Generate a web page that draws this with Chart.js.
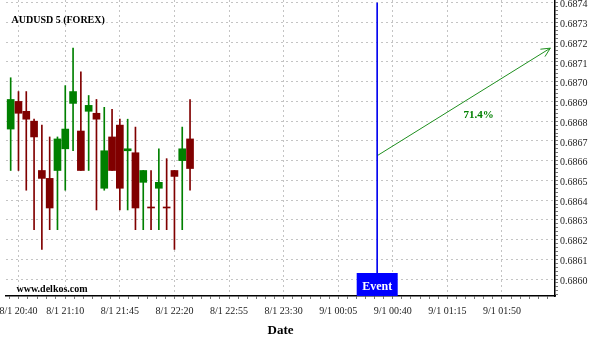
<!DOCTYPE html>
<html><head><meta charset="utf-8">
<script src="https://cdn.jsdelivr.net/npm/chart.js@4.4.0/dist/chart.umd.min.js"></script>
<style>html,body{margin:0;padding:0;background:#fff;}canvas{display:block;}</style>
</head><body>
<canvas id="c" width="600" height="340"></canvas>
<script>
// ---- data ----
const CANDLE_TIMES = ['8/1 20:35','8/1 20:40','8/1 20:45','8/1 20:50','8/1 20:55','8/1 21:00','8/1 21:05','8/1 21:10',
  '8/1 21:15','8/1 21:20','8/1 21:25','8/1 21:30','8/1 21:35','8/1 21:40','8/1 21:45','8/1 21:50',
  '8/1 21:55','8/1 22:00','8/1 22:05','8/1 22:10','8/1 22:15','8/1 22:20','8/1 22:25','8/1 22:30'];
const OPEN  = [0.68676,0.68690,0.68685,0.68680,0.68655,0.68651,0.68655,0.68666,0.68689,0.68675,0.68685,0.68684,
               0.68646,0.68672,0.68678,0.68665,0.68664,0.68649,0.68636,0.68646,0.68636,0.68655,0.68660,0.68671];
const HIGH  = [0.68702,0.68695,0.68695,0.68681,0.68678,0.68672,0.68672,0.68698,0.68717,0.68705,0.68693,0.68691,
               0.68687,0.68686,0.68681,0.68681,0.68677,0.68655,0.68655,0.68666,0.68661,0.68655,0.68677,0.68691];
const LOW   = [0.68655,0.68655,0.68645,0.68625,0.68615,0.68625,0.68625,0.68645,0.68665,0.68655,0.68655,0.68635,
               0.68645,0.68655,0.68635,0.68635,0.68625,0.68625,0.68625,0.68625,0.68625,0.68615,0.68625,0.68645];
const CLOSE = [0.68691,0.68684,0.68681,0.68672,0.68651,0.68636,0.68671,0.68676,0.68695,0.68655,0.68688,0.68681,
               0.68665,0.68655,0.68646,0.68666,0.68636,0.68655,0.68636,0.68649,0.68636,0.68652,0.68666,0.68656];
const X_TICK_LABELS = ['8/1 20:40','8/1 21:10','8/1 21:45','8/1 22:20','8/1 22:55','8/1 23:30','9/1 00:05','9/1 00:40','9/1 01:15','9/1 01:50'];
const Y_TICK_LABELS = ['0.6860','0.6861','0.6862','0.6863','0.6864','0.6865','0.6866','0.6867','0.6868','0.6869','0.6870','0.6871','0.6872','0.6873','0.6874'];
const X_RANGE = ['8/1 20:32','9/1 02:24'];
const Y_RANGE = [0.685914, 0.687414];
const EVENT_TIME = '9/1 00:30';
const EVENT_LABEL = 'Event';
const ARROW_FROM = {time: '9/1 00:30', price: 0.686625};
const ARROW_TO   = {time: '9/1 02:21', price: 0.68717};
const ARROW_TEXT = {time: '9/1 01:35', price: 0.68683, label: '71.4%'};
const TITLE = 'AUDUSD 5 (FOREX)';
const WATERMARK = 'www.delkos.com';
const X_TITLE = 'Date';

// ---- helpers ----
function toMin(s){const [d,t]=s.split(' ');const day=+d.split('/')[0];const [h,m]=t.split(':').map(Number);return (day-8)*1440+h*60+m;}
const UP='#008000', DOWN='#800000';
const SERIF="'Liberation Serif','Times New Roman',serif";
const colors = OPEN.map((o,i)=> CLOSE[i] > o ? UP : DOWN);
const xs = CANDLE_TIMES.map(toMin);
const yMajorVals = Y_TICK_LABELS.map(Number);
const xMajorVals = X_TICK_LABELS.map(toMin);
const xMin = toMin(X_RANGE[0]), xMax = toMin(X_RANGE[1]);
const evX = toMin(EVENT_TIME);

const overlay = {
  id:'overlay',
  afterDatasetsDraw(chart){
    const ctx=chart.ctx, x=chart.scales.x, y=chart.scales.y, ca=chart.chartArea;
    ctx.save();
    // arrow head
    const x1=x.getPixelForValue(toMin(ARROW_FROM.time)), y1=y.getPixelForValue(ARROW_FROM.price);
    const x2=x.getPixelForValue(toMin(ARROW_TO.time)), y2=y.getPixelForValue(ARROW_TO.price);
    const ang=Math.atan2(y2-y1,x2-x1), L=10, spread=0.45;
    ctx.strokeStyle='#1f8f1f'; ctx.lineWidth=1;
    ctx.beginPath();
    ctx.moveTo(x2-L*Math.cos(ang-spread), y2-L*Math.sin(ang-spread));
    ctx.lineTo(x2,y2);
    ctx.lineTo(x2-L*Math.cos(ang+spread), y2-L*Math.sin(ang+spread));
    ctx.stroke();
    // arrow text
    ctx.fillStyle='#008000'; ctx.font='bold 11px '+SERIF; ctx.textAlign='center'; ctx.textBaseline='middle';
    ctx.fillText(ARROW_TEXT.label, x.getPixelForValue(toMin(ARROW_TEXT.time)), y.getPixelForValue(ARROW_TEXT.price));
    // event box
    const ex=x.getPixelForValue(evX);
    ctx.fillStyle='#0000ff';
    ctx.fillRect(ex-20.5, ca.bottom-23, 41, 23);
    ctx.fillStyle='#ffffff'; ctx.font='bold 12px '+SERIF;
    ctx.fillText(EVENT_LABEL, ex, ca.bottom-9);
    // title & watermark
    ctx.fillStyle='#000'; ctx.font='bold 10px '+SERIF; ctx.textAlign='left';
    ctx.fillText(TITLE, 11.5, 20);
    ctx.fillText(WATERMARK, 16.5, 289);
    ctx.restore();
  }
};

new Chart(document.getElementById('c'), {
  type:'bar',
  data:{datasets:[
    {type:'bar', data: xs.map((t,i)=>({x:t, y:[OPEN[i], CLOSE[i]]})), backgroundColor: colors, borderWidth:0,
     barThickness:7, minBarLength:1, grouped:false, order:0},
    {type:'bar', data: xs.map((t,i)=>({x:t, y:[LOW[i], HIGH[i]]})), backgroundColor: colors, borderWidth:0,
     barThickness:1, grouped:false, order:1},
    {type:'line', data:[{x:evX, y:yMajorVals[yMajorVals.length-1]},{x:evX, y:Y_RANGE[0]}], borderColor:'#0000ee', borderWidth:1,
     pointRadius:0, order:2},
    {type:'line', data:[{x:toMin(ARROW_FROM.time), y:ARROW_FROM.price},{x:toMin(ARROW_TO.time), y:ARROW_TO.price}],
     borderColor:'#1f8f1f', borderWidth:1, pointRadius:0, order:2}
  ]},
  options:{
    responsive:false, animation:false, devicePixelRatio:1,
    layout:{padding:{left:6, right:0, top:0, bottom:0}},
    plugins:{legend:{display:false}, tooltip:{enabled:false}},
    scales:{
      x:{type:'linear', min:xMin, max:xMax, offset:false,
        afterBuildTicks(s){
          const t=[];
          const M=xMajorVals;
          for(let v=M[0]-6; v>=xMin; v-=6) t.push({value:v});
          for(let i=0;i<M.length;i++){
            t.push({value:M[i], isMajor:true, lbl:X_TICK_LABELS[i]});
            if(i<M.length-1){const d=M[i+1]-M[i], n=Math.round(d/6); for(let k=1;k<n;k++) t.push({value:M[i]+k*d/n});}
          }
          const st=35/6; for(let v=M[M.length-1]+st; v<=xMax; v+=st) t.push({value:v});
          t.sort((a,b)=>a.value-b.value);
          s.ticks=t;
        },
        afterFit(s){s.height=44; s.paddingLeft=0; s.paddingRight=0;},
        ticks:{autoSkip:false, maxRotation:0, minRotation:0, padding:6, color:'#222', font:{family:SERIF, size:10},
          callback(v,i,t){return t[i].isMajor ? t[i].lbl : '';}},
        grid:{offset:false, drawOnChartArea:true, tickLength:3, tickColor:'#777',
          color:c=> (c.tick && c.tick.isMajor) ? '#c4c4c4' : 'rgba(0,0,0,0)', lineWidth:1},
        border:{display:true, color:'#000', width:1.5, dash:[2,3]},
        title:{display:true, text:X_TITLE, color:'#000', font:{family:SERIF, size:13, weight:'bold'}, padding:{top:0,bottom:2}}
      },
      y:{type:'linear', position:'right', min:Y_RANGE[0], max:Y_RANGE[1], beginAtZero:false,
        afterBuildTicks(s){
          const t=[];
          const lo=Math.ceil(Y_RANGE[0]*1e5/2)*2, hi=Math.floor(Y_RANGE[1]*1e5);
          for(let k=lo;k<=hi;k+=2){
            const idx=yMajorVals.findIndex(v=>Math.round(v*1e5)===k);
            t.push(idx>=0 ? {value:yMajorVals[idx], isMajor:true, lbl:Y_TICK_LABELS[idx]} : {value:k/1e5});
          }
          s.ticks=t;
        },
        afterFit(s){s.width=45; s.paddingTop=0; s.paddingBottom=0;},
        ticks:{autoSkip:false, padding:2, labelOffset:2, color:'#222', font:{family:SERIF, size:10},
          callback(v,i,t){return t[i].isMajor ? t[i].lbl : '';}},
        grid:{drawOnChartArea:true, tickLength:3, tickColor:'#777',
          color:c=> (c.tick && c.tick.isMajor) ? '#c4c4c4' : 'rgba(0,0,0,0)', lineWidth:1},
        border:{display:true, color:'#000', width:1.5, dash:[2,3]}
      }
    }
  },
  plugins:[overlay]
});
</script>
</body></html>
